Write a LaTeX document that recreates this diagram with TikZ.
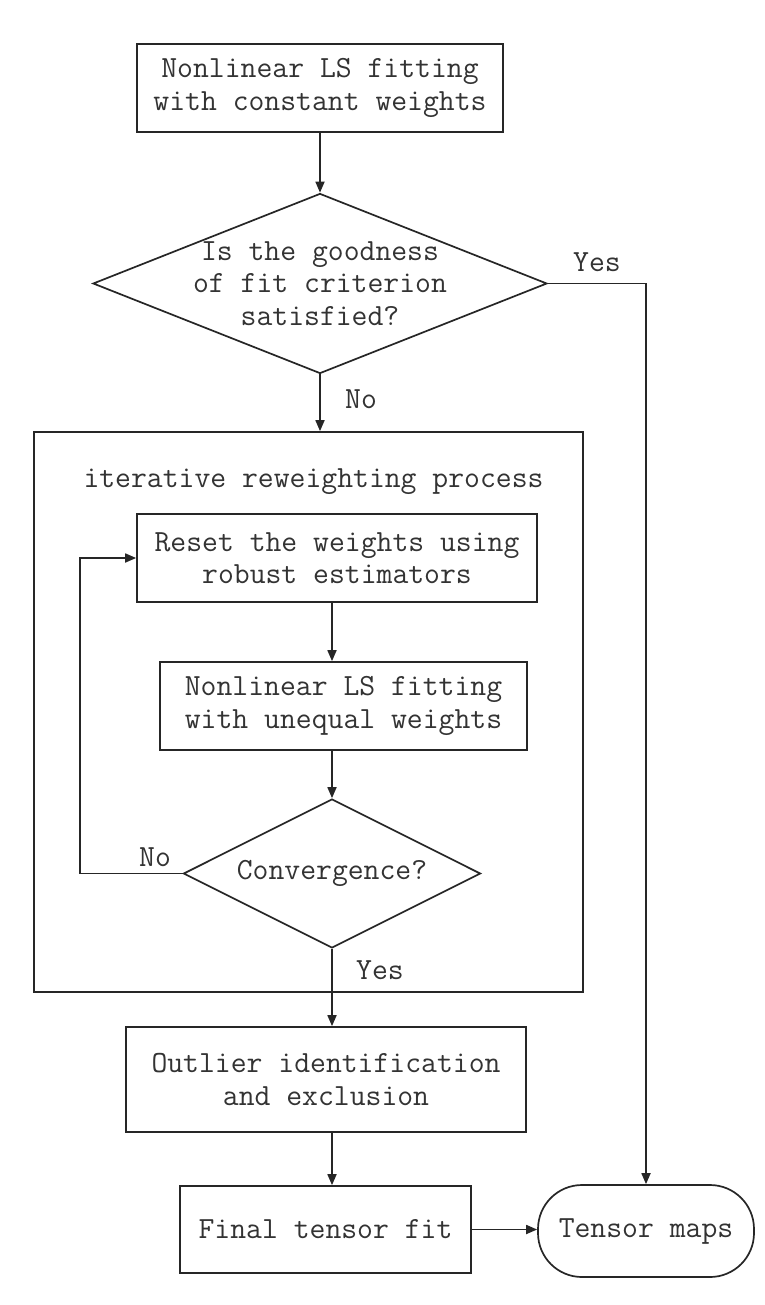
\documentclass[tikz,border=0pt]{standalone}
\usetikzlibrary{arrows.meta,shapes.geometric,calc}
\begin{document}
\begin{tikzpicture}[x=1pt,y=-1pt,
  every node/.style={font=\ttfamily\fontsize{30.8}{32.5}\selectfont, text=black!80},
  box/.style={draw=black!85, line width=1.7pt, rectangle, inner sep=0pt, align=center},
  dia/.style={draw=black!85, line width=1.7pt, diamond, inner sep=0pt},
  lab/.style={inner sep=0pt},
  conn/.style={draw=black!85, line width=1.7pt},
  arr/.style={conn, -{Triangle[length=11pt,width=9pt]}}
]
\useasboundingbox[fill=white] (0,0) rectangle (764,1305);

% outer process box
\node[box, minimum width=549pt, minimum height=560pt] (big) at (308.5,712) {};
\node[lab] (title) at (313.5,482) {iterative reweighting process};

\node[box, minimum width=366pt, minimum height=88pt] (top) at (320,88)
  {Nonlinear LS fitting\\with constant weights};
\node[dia, minimum width=454pt, minimum height=180pt] (d1) at (320,283.5) {};
\node[lab, align=center] (d1t) at (d1.center) {Is the goodness\\of fit criterion\\satisfied?};

\node[box, minimum width=400pt, minimum height=88pt] (reset) at (337,558)
  {Reset the weights using\\robust estimators};
\node[box, minimum width=367pt, minimum height=88pt] (fit2) at (343.5,706)
  {Nonlinear LS fitting\\with unequal weights};
\node[dia, minimum width=297pt, minimum height=149pt] (d2) at (332,873.5) {};
\node[lab] (d2t) at (d2.center) {Convergence?};

\node[box, minimum width=400pt, minimum height=105pt] (outl) at (326,1079.5)
  {Outlier identification\\and exclusion};
\node[box, minimum width=291pt, minimum height=87pt] (final) at (325.5,1229.5)
  {Final tensor fit};
\node[box, rounded corners=44pt, minimum width=216pt, minimum height=92pt] (tensor) at (646,1231)
  {Tensor maps};

% labels
\node[lab] (yes1) at (597,262) {Yes};
\node[lab] (no1) at (361,399) {No};
\node[lab] (no2) at (155,857) {No};
\node[lab] (yes2) at (380,970) {Yes};

% connectors
\draw[arr] (top.south) -- (d1.north);
\draw[arr] (d1.south) -- (d1.south |- big.north);
\draw[arr] (d1.east) -| (tensor.north);
\draw[arr] (reset.south -| d2.north) -- (fit2.north -| d2.north);
\draw[arr] (fit2.south -| d2.north) -- (d2.north);
\coordinate (lp) at (80,558);
\draw[arr] (d2.west) -| (lp) -- (reset.west);
\draw[arr] (d2.south) -- (d2.south |- outl.north);
\draw[arr] (outl.south -| d2.south) -- (final.north -| d2.south);
\draw[arr] (final.east) -- (final.east -| tensor.west);
\end{tikzpicture}
\end{document}
